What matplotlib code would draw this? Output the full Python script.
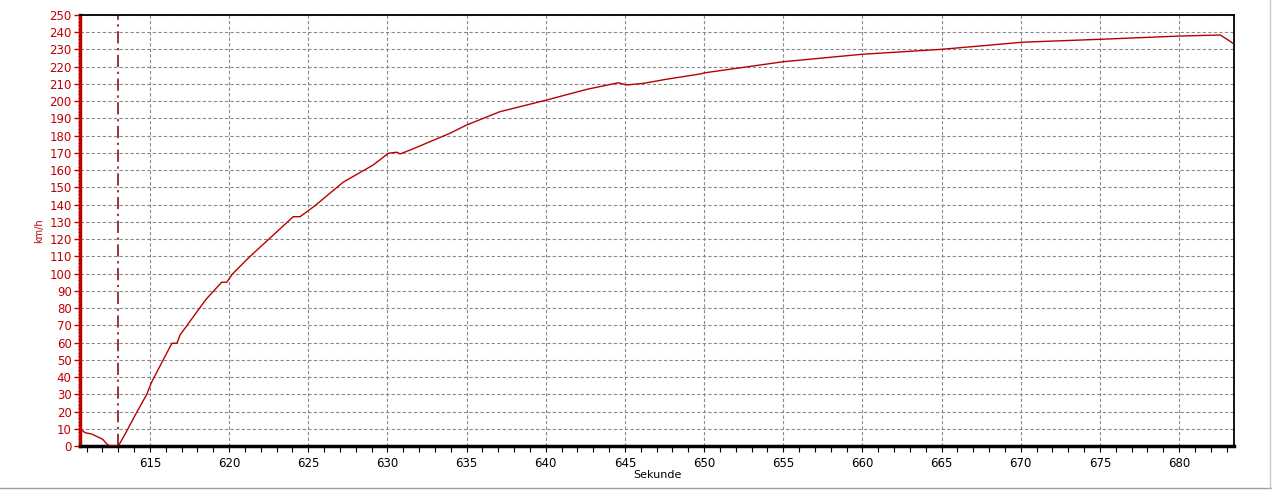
import matplotlib.pyplot as plt
import numpy as np
from matplotlib.lines import Line2D

# speed trace
sec = [610.6, 610.9, 611.3, 612.0, 612.3, 612.5, 613.0, 613.4, 614.16, 614.8,
       615.1, 616.27, 616.4, 616.7, 616.9, 618.2, 618.58, 619.53, 619.85, 620.2,
       621.3, 624.05, 624.48, 625.4, 627.2, 629.1, 630.06, 630.6, 630.8, 631.6,
       633.95, 635.0, 637.1, 640.06, 642.6, 644.58, 645.1, 646.2, 647.6, 649.75,
       650.06, 655.0, 659.96, 665.0, 667.4, 670.07, 675.0, 680.07, 682.6, 683.0,
       683.4]
kmh = [10, 7.7, 7, 4, 1, 0, 0, 6.4, 19.5, 30,
       37, 57.6, 59.6, 59.6, 64.4, 80.8, 85.5, 95, 95, 99.7,
       109.8, 133, 133, 139.2, 153, 163, 169.8, 170.4, 169.4, 172.3,
       181.4, 186.2, 193.9, 200.7, 206.9, 210.7, 209.4, 210.4, 212.7, 215.8,
       216.5, 222.9, 227.2, 230.1, 232, 234.2, 235.9, 237.8, 238.4, 236.1,
       233.6]
marker_sec = 613.0

xmin, xmax = 610.58, 683.47
red = '#c00000'

fig = plt.figure(figsize=(12.72, 4.96), dpi=100)
ax = fig.add_axes([80/1272, 50/496, (1234-80)/1272, (446-15)/496])

ax.plot(sec, kmh, color='#b80000', lw=1.0, zorder=3)
ax.axvline(marker_sec, color='#7a0000', lw=1.1, dashes=(8, 3, 1.5, 3))

ax.set_xlim(xmin, xmax)
ax.set_ylim(0, 250)
ax.set_xticks(np.arange(615, 684, 5))
ax.set_xticks(np.arange(611, 684, 1), minor=True)
ax.set_yticks(np.arange(0, 251, 10))
ax.set_yticks(np.arange(0, 251, 2), minor=True)
ax.grid(True, which='major', color='#8a8a8a', ls=(0, (3, 2)), lw=0.8)

ax.tick_params(axis='y', which='major', colors=red, labelsize=8.5, length=4, width=1, pad=2)
ax.tick_params(axis='y', which='minor', colors=red, length=1.5, width=1)
ax.tick_params(axis='x', which='both', colors='black', labelsize=8.5, length=4, width=0.8)
ax.tick_params(axis='x', which='major', pad=4)

for s in ['top', 'right']:
    ax.spines[s].set_color('black')
    ax.spines[s].set_linewidth(1.3)
ax.spines['left'].set_color(red)
ax.spines['left'].set_linewidth(2.5)
ax.spines['bottom'].set_color('black')
ax.spines['bottom'].set_linewidth(2.5)

ax.set_ylabel('km/h', color=red, fontsize=7, labelpad=4)
ax.set_xlabel('Sekunde', fontsize=8, labelpad=0)

# window frame lines
fig.add_artist(Line2D([0, 1], [8/496, 8/496], transform=fig.transFigure, color='#a0a0a0', lw=1))
fig.add_artist(Line2D([1270/1272, 1270/1272], [8/496, 1], transform=fig.transFigure, color='#c8c8c8', lw=1))

fig.savefig('out.png', dpi=100)
